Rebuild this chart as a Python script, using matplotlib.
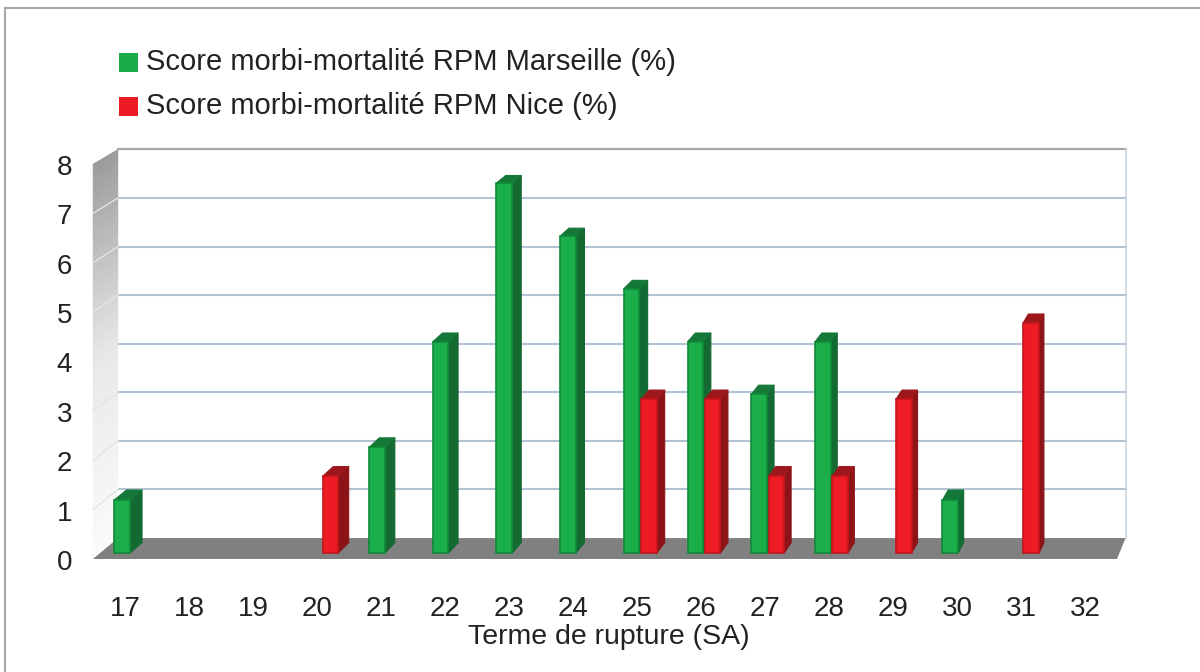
import numpy as np
import matplotlib
matplotlib.use("Agg")
import matplotlib.pyplot as plt
from matplotlib.patches import Polygon, Rectangle

# Données
semaines = [17, 18, 19, 20, 21, 22, 23, 24, 25, 26, 27, 28, 29, 30, 31, 32]
marseille = [1.08, 0, 0, 0, 2.15, 4.30, 7.53, 6.45, 5.38, 4.30, 3.23, 4.30, 0, 1.08, 0, 0]
nice = [0, 0, 0, 1.56, 0, 0, 0, 0, 3.13, 3.13, 1.56, 1.56, 3.13, 0, 4.69, 0]
y_ticks = [0, 1, 2, 3, 4, 5, 6, 7, 8]

label_marseille = "Score morbi-mortalité RPM Marseille (%)"
label_nice = "Score morbi-mortalité RPM Nice (%)"
x_label = "Terme de rupture (SA)"

FONT = ["Liberation Sans", "DejaVu Sans"]

# perspective "3D" : point de fuite en haut à droite (coordonnées données)
VX, VY, K = 40.9, 26.5, 0.016
D1, D2 = 0.28, 0.78          # profondeur avant / arrière des barres
X0, X1, YMAX = 16.5, 32.5, 8


def proj(x, y, d):
    s = 1 - K * d
    return VX + s * (x - VX), VY + s * (y - VY)


def draw_box(ax, xc, width, value, front, side, top, edge, z):
    s = 1 - K * D1
    xl, yb = proj(xc - width / 2, 0, D1)
    xr, yt = proj(xc + width / 2, value, D1)
    # face avant via ax.bar
    ax.bar(xl, yt - yb, width=width * s, bottom=yb, align="edge",
           color=front, edgecolor=edge, linewidth=1.2, zorder=z + 0.2, clip_on=False)
    # face latérale
    pts_side = [proj(xc + width / 2, value, D1), proj(xc + width / 2, value, D2),
                proj(xc + width / 2, 0, D2), proj(xc + width / 2, 0, D1)]
    ax.add_patch(Polygon(pts_side, closed=True, facecolor=side, edgecolor=side,
                         linewidth=0.8, zorder=z, clip_on=False))
    # face supérieure
    pts_top = [proj(xc - width / 2, value, D1), proj(xc + width / 2, value, D1),
               proj(xc + width / 2, value, D2), proj(xc - width / 2, value, D2)]
    ax.add_patch(Polygon(pts_top, closed=True, facecolor=top, edgecolor=top,
                         linewidth=0.8, zorder=z + 0.1, clip_on=False, joinstyle="round"))


def draw_walls(ax):
    # mur du fond
    back = [proj(X0, 0, 1), proj(X1, 0, 1), proj(X1, YMAX, 1), proj(X0, YMAX, 1)]
    ax.add_patch(Polygon(back, closed=True, facecolor="white", edgecolor="none",
                         zorder=0, clip_on=False))
    for y in y_ticks[1:-1]:
        a, b = proj(X0, y, 1), proj(X1, y, 1)
        ax.plot([a[0], b[0]], [a[1], b[1]], color="#b3c3d3", lw=1.5, zorder=1, clip_on=False)
    a, b = proj(X0, YMAX, 1), proj(X1, YMAX, 1)
    ax.plot([a[0], b[0]], [a[1], b[1]], color="#a8a8a8", lw=1.6, zorder=1, clip_on=False)
    a, b = proj(X1, 0, 1), proj(X1, YMAX, 1)
    ax.plot([a[0], b[0]], [a[1], b[1]], color="#c9d5e1", lw=1.2, zorder=1, clip_on=False)

    # mur de gauche avec dégradé (bandes horizontales)
    cmap = matplotlib.colors.LinearSegmentedColormap.from_list(
        "mur", ["#fbfbfb", "#e8e8e8", "#9b9b9b"])
    levels = np.linspace(0, YMAX, 81)
    for k in range(len(levels) - 1):
        a, b = levels[k], levels[k + 1]
        strip = [proj(X0, a, 0), proj(X0, a, 1), proj(X0, b, 1), proj(X0, b, 0)]
        col = cmap((a + b) / 2 / YMAX)
        ax.add_patch(Polygon(strip, closed=True, facecolor=col, edgecolor=col,
                             linewidth=0.3, zorder=1, clip_on=False))
    for y in y_ticks[1:-1]:
        a, b = proj(X0, y, 1), proj(X0, y, 0)
        ax.plot([a[0], b[0]], [a[1], b[1]], color="#e4e4e4", lw=1.0, zorder=1.5, clip_on=False)

    # sol
    floor = [proj(X0, 0, 0), proj(X1, 0, 0), proj(X1, 0, 1), proj(X0, 0, 1)]
    ax.add_patch(Polygon(floor, closed=True, facecolor="#808080", edgecolor="none",
                         zorder=2, clip_on=False))


def main():
    plt.rcParams["font.family"] = FONT
    fig = plt.figure(figsize=(12, 6.72), dpi=100)
    ax = fig.add_axes([93 / 1200, 1 - 559 / 672, 1024 / 1200, 395 / 672])
    ax.set_xlim(X0, X1)
    ax.set_ylim(0, YMAX)
    for sp in ax.spines.values():
        sp.set_visible(False)
    ax.set_facecolor("none")

    draw_walls(ax)

    # barres, de gauche à droite pour l'occultation
    width = 0.245
    z = 3
    for i, sa in enumerate(semaines):
        if marseille[i] > 0:
            draw_box(ax, sa - 0.155, width, marseille[i],
                     "#1cae4a", "#136a32", "#167838", "#0f8a38", z)
        z += 1
        if nice[i] > 0:
            draw_box(ax, sa + 0.115, width, nice[i],
                     "#ed1c24", "#8c1418", "#9c181d", "#c4151b", z)
        z += 1

    ax.set_xticks(semaines)
    ax.set_xticklabels([str(s) for s in semaines], fontsize=20, color="#222222")
    ax.set_yticks(y_ticks)
    ax.set_yticklabels([str(v) for v in y_ticks], fontsize=20, color="#222222",
                       va="top")
    for lbl in ax.get_yticklabels():
        lbl.set_y(lbl.get_position()[1])
    ax.tick_params(axis="x", length=0, pad=27)
    ax.tick_params(axis="y", length=0, pad=15)
    # léger décalage vers le bas des étiquettes de l'axe y
    for lbl in ax.get_yticklabels():
        lbl.set_verticalalignment("center")
        lbl.set_transform(lbl.get_transform() + matplotlib.transforms.ScaledTranslation(0, -0.04, fig.dpi_scale_trans))

    fig.text(609 / 1200, 1 - 637 / 672, x_label, fontsize=20.5, color="#222222",
             ha="center", va="center")

    # légende
    for yc, col, lab in [(62.5, "#1aaa4a", label_marseille), (106.5, "#ed1c24", label_nice)]:
        fig.patches.append(Rectangle((119 / 1200, 1 - (yc + 9.5) / 672), 19 / 1200, 19 / 672,
                                     transform=fig.transFigure, facecolor=col, edgecolor="none"))
        fig.text(146 / 1200, 1 - yc / 672, lab, fontsize=21, color="#222222",
                 ha="left", va="center")

    # cadre extérieur
    fig.add_artist(plt.Line2D([5 / 1200, 1], [1 - 8 / 672, 1 - 8 / 672],
                              transform=fig.transFigure, color="#a6a6a6", lw=1.5))
    fig.add_artist(plt.Line2D([5 / 1200, 5 / 1200], [0, 1 - 8 / 672],
                              transform=fig.transFigure, color="#a6a6a6", lw=1.5))

    fig.savefig("out.png", dpi=100)


if __name__ == "__main__":
    main()
